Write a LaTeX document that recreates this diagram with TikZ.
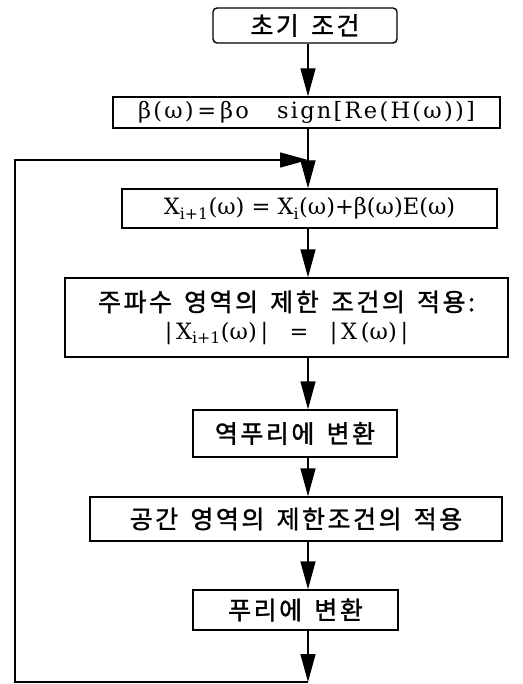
\documentclass[tikz,border=0pt]{standalone}
\usepackage{fontspec}
\setmainfont{DejaVu Serif}
\newfontfamily\wide[LetterSpace=10]{DejaVu Serif}
\newfontfamily\kr[LetterSpace=10,WordSpace=1.5,FakeBold=1.2]{Noto Sans CJK KR}
\newcommand{\krtext}[1]{{\kr\fontsize{25}{30}\selectfont #1}}
\usetikzlibrary{arrows.meta}
\begin{document}
\begin{tikzpicture}[x=1pt,y=-1pt,line width=1.4pt,
  font=\fontsize{22.5}{28}\selectfont,
  box/.style={rectangle,draw=black,inner sep=0pt},
  >={Triangle[length=28pt,width=15pt]}]
\useasboundingbox (0,0) rectangle (522,684);
\coordinate (spine) at (308,0);

\node[box,rounded corners=4pt,minimum width=184pt,minimum height=35pt] (init) at (305,25.5) {\krtext{초기 조건}};
\node[box,minimum width=387pt,minimum height=31pt] (beta) at (306.5,112.5) {\wide β(ω)\,=\,βo~~~sign[Re(H(ω))]};
\draw[->] (init.south -| spine)--(beta.north -| spine);

\node[box,minimum width=375pt,minimum height=39pt] (update) at (309.5,208.5) {X\textsubscript{i+1}(ω)~=~X\textsubscript{i}(ω)+β(ω)E(ω)};
\coordinate (merge) at (308,160);
\draw[->] (beta.south -| spine)--(update.north -| spine);

\node[box,minimum width=443pt,minimum height=79pt,align=center] (freq) at (286.5,317.5) {\krtext{주파수 영역의 제한 조건의 적용:}\\[0pt] |\,X\textsubscript{i+1}(ω)\,|~~~=~~~|\,X\,(ω)\,|};
\draw[->] (update.south -| spine)--(freq.north -| spine);

\node[box,minimum width=204pt,minimum height=47pt] (ifft) at (295,433.5) {\krtext{역푸리에 변환}};
\draw[->] (freq.south -| spine)--(ifft.north -| spine);

\node[box,minimum width=412pt,minimum height=44pt] (space) at (296,519) {\krtext{공간 영역의 제한조건의 적용}};
\draw[->] (ifft.south -| spine)--(space.north -| spine);

\node[box,minimum width=205pt,minimum height=40pt] (fft) at (295.5,610) {\krtext{푸리에 변환}};
\draw[->] (space.south -| spine)--(fft.north -| spine);

% feedback loop
\coordinate (bottom) at (308,682);
\coordinate (corner) at (15,682);
\draw[->] (fft.south -| spine)--(bottom);
\draw[->] (bottom)--(corner)|-(merge);
\end{tikzpicture}
\end{document}
